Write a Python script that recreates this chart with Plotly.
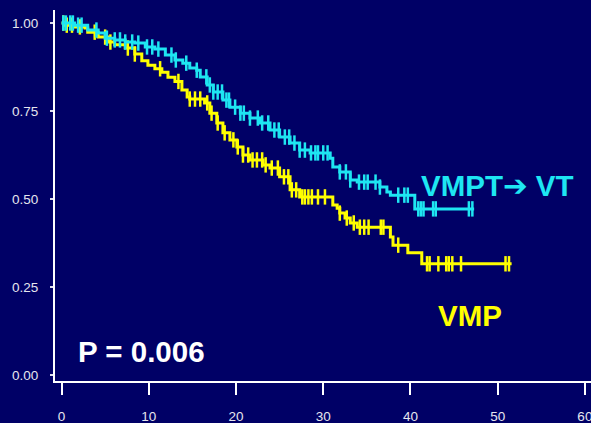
import numpy as np
import plotly.graph_objects as go

# Kaplan-Meier step points (months, survival probability)
vmpt_time = [0, 1.5, 3.0, 4.2, 5.0, 6.1, 7.3, 8.4, 9.6, 10.7, 11.9, 13.0, 13.9, 14.7, 15.5,
             15.9, 16.7, 17.4, 18.5, 19.3, 20.5, 21.6, 22.8, 23.9, 25.0, 26.2, 27.3, 28.5,
             30.8, 31.1, 31.9, 33.1, 33.9, 36.5, 37.3, 37.7, 40.5]
vmpt_surv = [1.0, 0.994, 0.980, 0.972, 0.957, 0.952, 0.946, 0.943, 0.932, 0.926, 0.909, 0.895,
             0.886, 0.872, 0.866, 0.847, 0.824, 0.804, 0.781, 0.761, 0.744, 0.730, 0.716, 0.696,
             0.676, 0.659, 0.639, 0.631, 0.616, 0.591, 0.577, 0.554, 0.548, 0.534, 0.520, 0.511,
             0.472]
vmpt_end = 47.3
vmpt_censor = [0.2, 0.5, 1.0, 1.3, 1.9, 2.3, 4.0, 5.2, 6.1, 6.7, 7.3, 8.1, 8.8, 9.8, 10.4, 11.1,
               12.6, 13.1, 14.3, 15.5, 16.6, 17.0, 17.4, 17.9, 18.4, 18.9, 19.2, 19.9, 20.5,
               20.9, 21.6, 22.5, 23.0, 23.7, 24.4, 24.9, 25.6, 26.1, 26.7, 27.3, 27.9, 28.6,
               29.1, 29.4, 30.0, 30.5, 31.9, 32.6, 33.1, 34.1, 34.7, 35.1, 36.0, 36.5, 38.6,
               39.3, 39.7, 40.9, 41.2, 41.5, 42.6, 42.9, 46.7, 47.1]

vmp_time = [0, 0.4, 1.5, 2.7, 3.0, 4.2, 5.3, 6.1, 7.3, 8.4, 9.2, 9.9, 10.7, 11.5, 12.2, 13.0,
            13.8, 14.4, 14.7, 16.4, 17.0, 17.8, 18.5, 19.3, 20.1, 20.8, 21.6, 23.1, 23.9, 25.0,
            26.2, 27.3, 31.1, 31.6, 31.9, 32.5, 33.1, 33.9, 37.7, 38.0, 39.7, 41.3]
vmp_surv = [1.0, 0.994, 0.989, 0.986, 0.974, 0.960, 0.946, 0.938, 0.929, 0.912, 0.893, 0.880,
            0.870, 0.860, 0.846, 0.834, 0.810, 0.790, 0.784, 0.773, 0.744, 0.716, 0.688, 0.668,
            0.648, 0.625, 0.611, 0.597, 0.588, 0.563, 0.526, 0.506, 0.483, 0.474, 0.460, 0.446,
            0.432, 0.420, 0.392, 0.369, 0.347, 0.316]
vmp_end = 51.6
vmp_censor = [0.2, 0.6, 1.2, 2.1, 3.8, 5.0, 5.6, 7.6, 8.4, 11.3, 13.4, 14.7, 15.3, 15.9, 16.7,
              17.2, 17.9, 18.7, 19.7, 20.2, 20.8, 21.4, 21.9, 22.4, 23.0, 23.4, 24.1, 24.8,
              25.5, 26.0, 26.4, 26.9, 27.6, 27.9, 28.3, 28.7, 29.4, 30.2, 31.9, 32.7, 33.5,
              34.2, 34.7, 35.2, 36.6, 36.9, 38.6, 41.9, 42.2, 43.2, 44.1, 44.4, 44.8, 45.8,
              50.9, 51.3]

x_ticks = [0, 10, 20, 30, 40, 50, 60]
y_ticks = [0.0, 0.25, 0.5, 0.75, 1.0]
y_tick_text = ["0.00", "0.25", "0.50", "0.75", "1.00"]

BG = "#000066"
CYAN = "#1EE6F2"
YELLOW = "#FFFF00"
FONT = "Liberation Sans, Arial, sans-serif"
LABEL_SIZE = 29.5


def step_at(times, surv, t):
    idx = np.searchsorted(np.asarray(times), np.asarray(t), side="right") - 1
    return np.asarray(surv)[idx]


fig = go.Figure()

for times, surv, end, cens, color in [
    (vmp_time, vmp_surv, vmp_end, vmp_censor, YELLOW),
    (vmpt_time, vmpt_surv, vmpt_end, vmpt_censor, CYAN),
]:
    fig.add_trace(go.Scatter(
        x=list(times) + [end], y=list(surv) + [surv[-1]],
        mode="lines", line=dict(color=color, width=3, shape="hv"),
        hoverinfo="skip", showlegend=False,
    ))
    fig.add_trace(go.Scatter(
        x=cens, y=step_at(times, surv, cens),
        mode="markers",
        marker=dict(symbol="line-ns", size=11, line=dict(color=color, width=2.5)),
        hoverinfo="skip", showlegend=False,
    ))

arrow = '<span style="font-family:DejaVu Sans">➔</span>'
fig.add_annotation(x=41.0, y=0.537, xref="x", yref="y",
                   text=f"<b>VMPT{arrow} VT</b>",
                   showarrow=False, xanchor="left", yanchor="middle",
                   font=dict(family=FONT, size=LABEL_SIZE, color=CYAN))
fig.add_annotation(x=42.9, y=0.168, xref="x", yref="y", text="<b>VMP</b>",
                   showarrow=False, xanchor="left", yanchor="middle",
                   font=dict(family=FONT, size=LABEL_SIZE, color=YELLOW))
fig.add_annotation(x=1.6, y=0.068, xref="x", yref="y", text="<b>P = 0.006</b>",
                   showarrow=False, xanchor="left", yanchor="middle",
                   font=dict(family=FONT, size=LABEL_SIZE, color="white"))

fig.update_layout(
    width=591, height=423,
    margin=dict(l=55, r=0, t=10, b=42),
    paper_bgcolor=BG, plot_bgcolor=BG,
    font=dict(family=FONT, color="#E6E6EE"),
    xaxis=dict(
        range=[-0.75, 60.7], tickvals=x_ticks, showgrid=False, zeroline=False,
        showline=True, linecolor="white", linewidth=2,
        ticks="outside", ticklen=12, tickwidth=2, tickcolor="white",
        tickfont=dict(size=13.5, color="#E6E6EE"), ticklabelstandoff=10,
        ticklabeloverflow="allow",
    ),
    yaxis=dict(
        range=[-0.017, 1.037], tickvals=y_ticks, ticktext=y_tick_text,
        showgrid=False, zeroline=False,
        showline=True, linecolor="white", linewidth=2,
        ticks="outside", ticklen=3, tickwidth=2, tickcolor="#DDDDEE",
        tickfont=dict(size=13.5, color="#E6E6EE"), ticklabelstandoff=9,
    ),
)

fig.write_html("out.html")
